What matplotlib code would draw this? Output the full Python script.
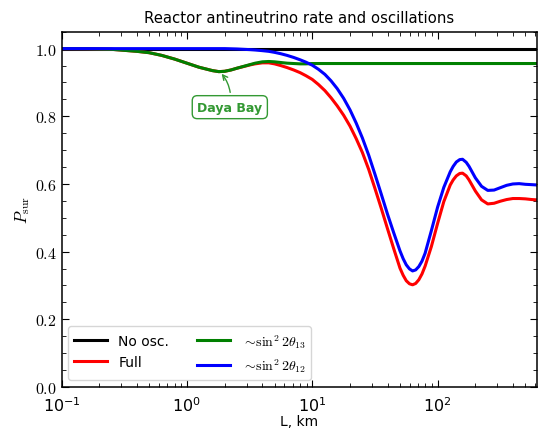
import numpy as np
import matplotlib
matplotlib.use('Agg')
import matplotlib.pyplot as plt
from matplotlib.ticker import AutoMinorLocator, FormatStrFormatter

plt.rcParams['mathtext.fontset'] = 'cm'
plt.rcParams['font.family'] = ['DejaVu Sans']

# distance, km
L = [0.1, 0.16, 0.25, 0.4, 0.5, 0.63, 0.8, 1.0, 1.25, 1.6, 1.8, 2.0, 2.25, 2.5,
     3.2, 3.5, 4.0, 4.5, 5.0, 5.6, 6.3, 7.1, 8.0, 8.9, 10, 11.2, 12.6, 14.1,
     15.8, 17.8, 20, 22.4, 25.1, 28.2, 31.6, 35.5, 39.8, 44.7, 50.1, 53.1,
     56.2, 59.6, 63.1, 66.8, 70.8, 75, 79.4, 89.1, 100, 112, 126, 133, 141,
     150, 158, 169, 178, 200, 224, 251, 282, 316, 355, 398, 447, 501, 562, 620]

p_noosc = [1.0] * len(L)

# ~ sin^2 2theta13 only
p_th13 = [1.000, 0.9995, 0.998, 0.992, 0.988, 0.980, 0.969, 0.957, 0.945, 0.935,
          0.932, 0.933, 0.937, 0.942, 0.953, 0.957, 0.961, 0.962, 0.961, 0.959,
          0.957, 0.956, 0.955, 0.955, 0.956, 0.956, 0.956, 0.956, 0.956, 0.956,
          0.956, 0.956, 0.956, 0.956, 0.956, 0.956, 0.956, 0.956, 0.956, 0.956,
          0.956, 0.956, 0.956, 0.956, 0.956, 0.956, 0.956, 0.956, 0.956, 0.956,
          0.956, 0.956, 0.956, 0.956, 0.956, 0.956, 0.956, 0.956, 0.956, 0.956,
          0.956, 0.956, 0.956, 0.956, 0.956, 0.956, 0.956, 0.956]

# full oscillation
p_full = [1.000, 0.9995, 0.998, 0.992, 0.988, 0.980, 0.969, 0.957, 0.945, 0.935,
          0.932, 0.933, 0.937, 0.942, 0.952, 0.955, 0.958, 0.958, 0.955, 0.950,
          0.944, 0.937, 0.929, 0.920, 0.909, 0.894, 0.876, 0.855, 0.831, 0.803,
          0.771, 0.734, 0.693, 0.643, 0.587, 0.528, 0.468, 0.408, 0.351, 0.330,
          0.314, 0.305, 0.302, 0.306, 0.317, 0.334, 0.357, 0.415, 0.484, 0.548,
          0.597, 0.612, 0.624, 0.631, 0.632, 0.624, 0.612, 0.579, 0.553, 0.541,
          0.543, 0.549, 0.554, 0.557, 0.557, 0.556, 0.554, 0.553]

# ~ sin^2 2theta12 only
p_th12 = [1.000, 1.000, 1.000, 1.000, 1.000, 1.000, 1.000, 1.000, 1.000, 1.000,
          1.000, 1.000, 0.9995, 0.999, 0.997, 0.996, 0.994, 0.992, 0.989, 0.985,
          0.980, 0.974, 0.967, 0.960, 0.951, 0.939, 0.924, 0.905, 0.882, 0.853,
          0.819, 0.780, 0.736, 0.685, 0.629, 0.570, 0.511, 0.455, 0.402, 0.379,
          0.361, 0.349, 0.343, 0.346, 0.356, 0.372, 0.395, 0.462, 0.532, 0.590,
          0.636, 0.652, 0.665, 0.672, 0.673, 0.664, 0.652, 0.618, 0.593, 0.581,
          0.582, 0.589, 0.596, 0.600, 0.601, 0.599, 0.598, 0.597]

fig = plt.figure(figsize=(5.41, 4.31), dpi=100)
ax = fig.add_axes([0.1137, 0.0998, 0.8789, 0.8243])

ax.plot(L, p_noosc, color='black', lw=2.2, label='No osc.')
ax.plot(L, p_full, color='red', lw=2.2, label='Full')
ax.plot(L, p_th13, color='green', lw=2.2, label=r'$\sim\!\sin^2 2\theta_{13}$')
ax.plot(L, p_th12, color='blue', lw=2.2, label=r'$\sim\!\sin^2 2\theta_{12}$')

ax.set_xscale('log')
ax.set_xlim(0.1, 620)
ax.set_ylim(0.0, 1.05)
ax.yaxis.set_major_formatter(FormatStrFormatter(r'$%.1f$'))
ax.yaxis.set_minor_locator(AutoMinorLocator(4))
ax.tick_params(which='both', direction='in', top=True, right=True)
ax.tick_params(which='major', length=5, labelsize=11.5)
ax.tick_params(axis='x', which='major', pad=6)
ax.tick_params(which='minor', length=3)
for s in ax.spines.values():
    s.set_linewidth(1.1)

ax.set_title('Reactor antineutrino rate and oscillations', fontsize=10.7, pad=7)
ax.set_xlabel('L, km', fontsize=10, labelpad=0)
ax.set_ylabel(r'$P_{\rm sur}$', fontsize=12, labelpad=2)

ax.annotate('Daya Bay', xy=(1.83, 0.932), xytext=(2.2, 0.827),
            color='#339933', fontsize=9, fontweight='bold', ha='center', va='center',
            bbox=dict(boxstyle='round,pad=0.4', fc='white', ec='#339933'),
            arrowprops=dict(arrowstyle='->', color='#339933', lw=1,
                            connectionstyle='arc3,rad=0.25'))

ax.legend(loc='lower left', ncol=2, fontsize=10, handlelength=2.4,
          columnspacing=2.0)

plt.savefig('out.png')
